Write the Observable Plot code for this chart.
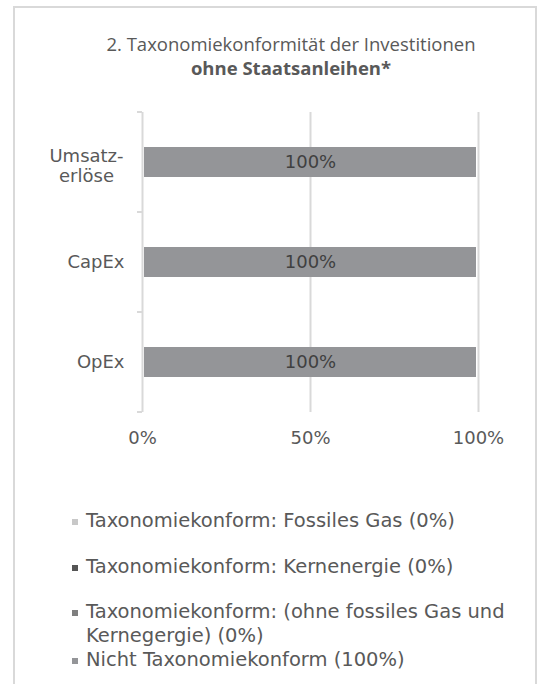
<!DOCTYPE html>
<html><head><meta charset="utf-8">
<script src="https://cdn.jsdelivr.net/npm/d3@7"></script>
<script src="https://cdn.jsdelivr.net/npm/@observablehq/plot@0.6"></script>
<style>
body{margin:0;background:#fff;}
#wrap{position:relative;width:541px;height:684px;overflow:hidden;font-family:"DejaVu Sans",Verdana,sans-serif;color:#595959;background:#fff;}
#frame{position:absolute;left:13px;top:6px;width:524px;height:720px;border:2px solid #d9d9d9;box-sizing:border-box;}
#title{position:absolute;left:41px;width:500px;top:32px;text-align:center;font-family:"Open Sans",sans-serif;font-size:18.5px;line-height:24px;color:#595959;}
#title div{white-space:nowrap;}
#title .b{font-weight:700;}
#chart{position:absolute;left:0;top:100px;}
#legend{position:absolute;left:72px;top:509px;}
.item{display:flex;align-items:flex-start;}
.sw{width:6px;height:6px;margin-top:10px;margin-right:8px;flex:none;}
.lab{width:440px;font-size:19.5px;line-height:24px;color:#595959;}
</style>
</head><body>
<div id="wrap">
  <div id="frame"></div>
  <div id="title"></div>
  <div id="chart"></div>
  <div id="legend"></div>
</div>
<script>
const titleLine1 = "2. Taxonomiekonformität der Investitionen";
const titleLine2 = "ohne Staatsanleihen*";
const categories = ["Umsatzerlöse", "CapEx", "OpEx"];
const categoryLabels = ["Umsatz-\nerlöse", "CapEx", "OpEx"];
const seriesNames = [
  "Taxonomiekonform: Fossiles Gas",
  "Taxonomiekonform: Kernenergie",
  "Taxonomiekonform: (ohne fossiles Gas und Kernegergie)",
  "Nicht Taxonomiekonform"
];
const fossilGas = [0, 0, 0];
const nuclear = [0, 0, 0];
const otherAligned = [0, 0, 0];
const notAligned = [100, 100, 100];
const legendShares = [0, 0, 0, 100];
const xTicks = [0, 50, 100];
const seriesColors = ["#c8c8c8", "#555555", "#7f7f7f", "#949598"];

const titleEl = document.getElementById("title");
const t1 = document.createElement("div"); t1.textContent = titleLine1;
const t2 = document.createElement("div"); t2.className = "b"; t2.textContent = titleLine2;
titleEl.appendChild(t1); titleEl.appendChild(t2);

const seriesValues = [fossilGas, nuclear, otherAligned, notAligned];
const data = [];
seriesNames.forEach((s, si) => categories.forEach((c, ci) => data.push({series: s, category: c, value: seriesValues[si][ci]})));

function bandTicks(index, scales, values, dims) {
  const n = categories.length;
  const top = dims.marginTop, bottom = dims.height - dims.marginBottom;
  const x0 = scales.x(0);
  const g = d3.create("svg:g").attr("stroke", "#d9d9d9").attr("stroke-width", 2);
  for (let k = 0; k <= n; k++) {
    const yy = top + (bottom - top) * k / n;
    g.append("line").attr("x1", x0 - 5).attr("x2", x0).attr("y1", yy).attr("y2", yy);
  }
  return g.node();
}

const fmtY = d => categoryLabels[categories.indexOf(d)];
const multiLine = categories.filter((c, i) => categoryLabels[i].includes("\n"));
const singleLine = categories.filter((c, i) => !categoryLabels[i].includes("\n"));

const chart = Plot.plot({
  width: 541,
  height: 360,
  marginLeft: 142,
  marginRight: 63,
  marginTop: 12,
  marginBottom: 48,
  style: {fontFamily: "DejaVu Sans, Verdana, sans-serif", fontSize: "18px", color: "#595959", background: "transparent"},
  x: {domain: [0, 100], ticks: xTicks, tickFormat: d => d + "%", tickSize: 0, tickPadding: 19, label: null},
  y: {domain: categories, paddingInner: 0.7, paddingOuter: 0.35, label: null},
  color: {domain: seriesNames, range: seriesColors},
  marks: [
    Plot.ruleX(xTicks, {stroke: "#d9d9d9", strokeWidth: 2}),
    bandTicks,
    Plot.axisY({ticks: singleLine, tickFormat: fmtY, tickSize: 0, tickPadding: 18, label: null, fontSize: 18}),
    Plot.axisY({ticks: multiLine, tickFormat: fmtY, tickSize: 0, tickPadding: 18, label: null, fontSize: 18,
      textAnchor: "middle", dx: -38, dy: 3, lineHeight: 1.12}),
    Plot.barX(data, Plot.stackX({x: "value", y: "category", z: "series", fill: "series", insetLeft: 2, insetRight: 2})),
    Plot.text(data, Plot.stackX({x: "value", y: "category", z: "series", filter: d => d.value > 0,
      text: d => d.value + "%", fill: "#404040", fontSize: 18}))
  ]
});
document.getElementById("chart").appendChild(chart);

const legend = document.getElementById("legend");
const gaps = [22, 21, 0, 0];
seriesNames.forEach((s, i) => {
  const item = document.createElement("div");
  item.className = "item";
  item.style.marginBottom = gaps[i] + "px";
  const sw = document.createElement("span");
  sw.className = "sw";
  sw.style.background = seriesColors[i];
  const lab = document.createElement("span");
  lab.className = "lab";
  lab.textContent = s + " (" + legendShares[i] + "%)";
  item.appendChild(sw); item.appendChild(lab);
  legend.appendChild(item);
});
</script>
</body></html>
